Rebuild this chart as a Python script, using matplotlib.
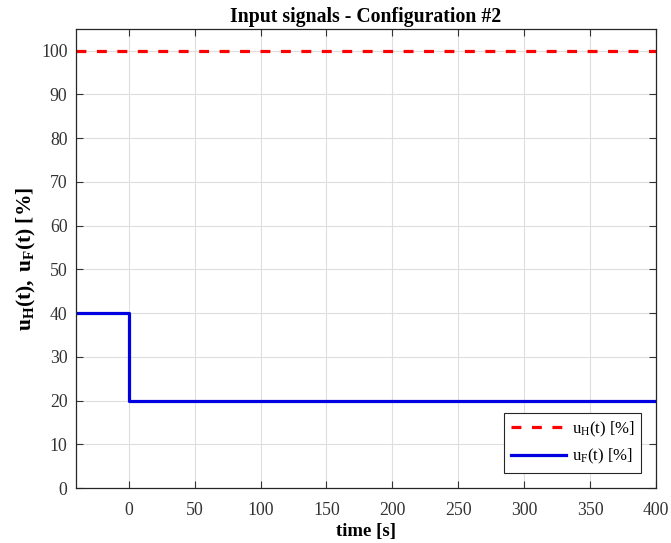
import matplotlib
matplotlib.use('Agg')
import matplotlib.pyplot as plt

# input signals for configuration #2
t_H = [-40, 400]
u_H = [100, 100]
t_F = [-40, 0, 400]
u_F = [40, 20, 20]

x_ticks = [0, 50, 100, 150, 200, 250, 300, 350, 400]
y_ticks = [0, 10, 20, 30, 40, 50, 60, 70, 80, 90, 100]

plt.rcParams['font.family'] = ['Liberation Serif', 'DejaVu Serif']
plt.rcParams['mathtext.fontset'] = 'custom'
plt.rcParams['mathtext.rm'] = 'Liberation Serif'
plt.rcParams['mathtext.bf'] = 'Liberation Serif:bold'
plt.rcParams['mathtext.it'] = 'Liberation Serif:italic'

fig = plt.figure(figsize=(6.71, 5.43), dpi=100)
ax = fig.add_axes([0.113, 0.101, 0.865, 0.846])

ax.plot(t_H, u_H, '--', color='#ff0000', linewidth=2.3, dashes=(3.1, 3.3),
        label=r'u$_\mathrm{H}$(t) [%]')
ax.plot(t_F, u_F, '-', color='#0000e0', linewidth=2.3, drawstyle='steps-post',
        label=r'u$_\mathrm{F}$(t) [%]')

ax.set_xlim(-40, 400)
ax.set_ylim(0, 105)
ax.set_xticks(x_ticks)
ax.set_yticks(y_ticks)
ax.tick_params(direction='in', top=True, right=True, labelsize=12.8,
               colors='#333333', length=5, width=0.8)
ax.tick_params(axis='x', pad=10)
ax.tick_params(axis='y', pad=6)
ax.grid(True, color='#dedede', linewidth=0.8)
ax.set_axisbelow(True)
for s in ax.spines.values():
    s.set_color('#262626')
    s.set_linewidth(0.9)

ax.set_title('Input signals - Configuration #2', fontsize=14.2, fontweight='bold', pad=5)
ax.set_xlabel('time [s]', fontsize=13.5, fontweight='bold', labelpad=3)
ax.set_ylabel(r'$\mathbf{u_H(t),\ u_F(t)\ [\%]}$', fontsize=15.5, labelpad=2)

leg = ax.legend(loc='lower right', fontsize=12, fancybox=False, framealpha=1,
                edgecolor='#262626', borderpad=0.4, handlelength=3.3,
                handletextpad=0.35, borderaxespad=0.9)
leg.get_frame().set_linewidth(0.8)

fig.savefig('out.png', dpi=100)
